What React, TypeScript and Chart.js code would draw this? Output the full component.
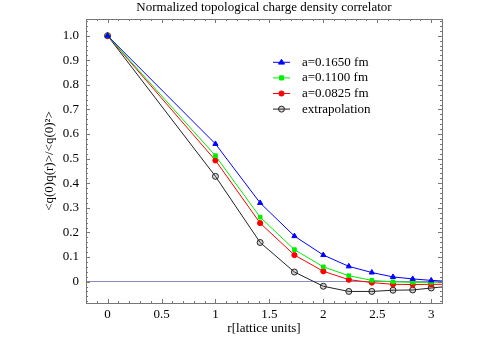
import React, { useEffect, useRef } from "react";
import { Chart, registerables } from "chart.js";

Chart.register(...registerables);

const chartTitle = "Normalized topological charge density correlator";
const xTitle = "r[lattice units]";
const yTitle = "<q(0)q(r)>/<q(0)²>";

const rValues = [0, 1, 1.4142, 1.7321, 2, 2.2361, 2.4495, 2.6458, 2.8284, 3, 3.1623];
const a1650 = [1, 0.56, 0.32, 0.185, 0.108, 0.062, 0.037, 0.019, 0.011, 0.005, 0.001];
const a1100 = [1, 0.512, 0.262, 0.13, 0.06, 0.024, 0.005, -0.001, -0.003, -0.003, -0.002];
const a0825 = [1, 0.493, 0.238, 0.108, 0.042, 0.008, -0.004, -0.011, -0.012, -0.011, -0.011];
const extrap = [1, 0.428, 0.159, 0.039, -0.019, -0.04, -0.04, -0.035, -0.034, -0.026, -0.019];

const seriesLabels = ["a=0.1650 fm", "a=0.1100 fm", "a=0.0825 fm", "extrapolation"];

const xTickValues = [0, 0.5, 1, 1.5, 2, 2.5, 3];
const yTickValues = [0, 0.1, 0.2, 0.3, 0.4, 0.5, 0.6, 0.7, 0.8, 0.9, 1.0];

const X_MIN = -0.2;
const X_MAX = 3.1;
const Y_MIN = -0.087;
const Y_MAX = 1.068;

const FONT = "'Liberation Serif', 'DejaVu Serif', serif";

const toPts = (ys: number[]) => ys.map((y, i) => ({ x: rValues[i], y }));

function drawMarker(ctx: CanvasRenderingContext2D, style: string, r: number, x: number, y: number) {
  ctx.beginPath();
  if (style === "triangle") {
    ctx.moveTo(x, y - r);
    ctx.lineTo(x + r, y + r * 0.6);
    ctx.lineTo(x - r, y + r * 0.6);
    ctx.closePath();
  } else if (style === "rect") {
    const s = r * 0.8;
    ctx.rect(x - s, y - s, 2 * s, 2 * s);
  } else {
    ctx.arc(x, y, r, 0, Math.PI * 2);
  }
  ctx.fill();
  ctx.stroke();
}

const decorPlugin = {
  id: "decor",
  afterDraw(chart: any) {
    const { ctx, chartArea } = chart;
    const { left, right, top, bottom } = chartArea;
    const xs = chart.scales.x;
    const ys = chart.scales.y;
    ctx.save();
    // frame
    ctx.strokeStyle = "#777";
    ctx.lineWidth = 1;
    ctx.strokeRect(Math.round(left) + 0.5, Math.round(top) + 0.5, Math.round(right - left), Math.round(bottom - top));
    // x ticks (top & bottom, inward)
    ctx.beginPath();
    for (let k = -2; k <= 31; k++) {
      const v = k / 10;
      const px = Math.round(xs.getPixelForValue(v)) + 0.5;
      if (px < left || px > right) continue;
      const len = k % 5 === 0 ? 4 : 2;
      ctx.moveTo(px, bottom);
      ctx.lineTo(px, bottom - len);
      ctx.moveTo(px, top);
      ctx.lineTo(px, top + len);
    }
    // y ticks (left & right, inward)
    for (let k = -4; k <= 53; k++) {
      const v = k / 50;
      const py = Math.round(ys.getPixelForValue(v)) + 0.5;
      if (py < top || py > bottom) continue;
      const len = k % 5 === 0 ? 4 : 2;
      ctx.moveTo(left, py);
      ctx.lineTo(left + len, py);
      ctx.moveTo(right, py);
      ctx.lineTo(right - len, py);
    }
    ctx.stroke();

    // titles
    ctx.fillStyle = "#000";
    ctx.font = `13px ${FONT}`;
    ctx.textAlign = "center";
    ctx.textBaseline = "middle";
    const cx = (left + right) / 2;
    ctx.fillText(chartTitle, cx, 8);
    ctx.fillText(xTitle, cx, 329);
    ctx.save();
    ctx.translate(50, (top + bottom) / 2);
    ctx.rotate(-Math.PI / 2);
    ctx.fillText(yTitle, 0, 0);
    ctx.restore();

    // legend
    const lx0 = 273;
    const lx1 = 290;
    const tx = 302;
    const y0 = 62.3;
    const dy = 15.6;
    chart.data.datasets.forEach((ds: any, i: number) => {
      const yy = y0 + i * dy;
      ctx.strokeStyle = ds.borderColor;
      ctx.lineWidth = 1;
      ctx.beginPath();
      ctx.moveTo(lx0, yy);
      ctx.lineTo(lx1, yy);
      ctx.stroke();
      ctx.fillStyle = ds.pointBackgroundColor;
      ctx.strokeStyle = ds.pointBorderColor;
      drawMarker(ctx, ds.pointStyle, ds.pointRadius, (lx0 + lx1) / 2, yy);
      ctx.fillStyle = "#000";
      ctx.textAlign = "left";
      ctx.textBaseline = "middle";
      ctx.font = `13px ${FONT}`;
      ctx.fillText(ds.label, tx, yy);
    });
    ctx.restore();
  },
};

export default function App() {
  const ref = useRef<HTMLCanvasElement | null>(null);
  useEffect(() => {
    document.body.style.margin = "0";
    const canvas = ref.current;
    if (!canvas) return;
    const chart = new Chart(canvas, {
      type: "line",
      data: {
        datasets: [
          {
            label: seriesLabels[0],
            data: toPts(a1650),
            borderColor: "#0000ff",
            backgroundColor: "#0000ff",
            pointBackgroundColor: "#0000ff",
            pointBorderColor: "#0000ff",
            pointStyle: "triangle",
            pointRadius: 3,
            borderWidth: 1,
          },
          {
            label: seriesLabels[1],
            data: toPts(a1100),
            borderColor: "#00ee00",
            backgroundColor: "#00ee00",
            pointBackgroundColor: "#00ee00",
            pointBorderColor: "#00ee00",
            pointStyle: "rect",
            pointRadius: 2.6,
            borderWidth: 1,
          },
          {
            label: seriesLabels[2],
            data: toPts(a0825),
            borderColor: "#ff0000",
            backgroundColor: "#ff0000",
            pointBackgroundColor: "#ff0000",
            pointBorderColor: "#ff0000",
            pointStyle: "circle",
            pointRadius: 2.6,
            borderWidth: 1,
          },
          {
            label: seriesLabels[3],
            data: toPts(extrap),
            borderColor: "#222222",
            backgroundColor: "#222222",
            pointBackgroundColor: "rgba(90,90,90,0.25)",
            pointBorderColor: "#222222",
            pointStyle: "circle",
            pointRadius: 3,
            borderWidth: 1,
          },
        ],
      },
      options: {
        responsive: false,
        animation: false,
        devicePixelRatio: 1,
        layout: { padding: { top: 19, right: 41, left: 0, bottom: 0 } },
        plugins: {
          legend: { display: false },
          title: { display: false },
          tooltip: { enabled: false },
        },
        elements: { line: { tension: 0 }, point: { borderWidth: 1 } },
        scales: {
          x: {
            type: "linear",
            min: X_MIN,
            max: X_MAX,
            afterBuildTicks: (s: any) => {
              s.ticks = xTickValues.map((v) => ({ value: v }));
            },
            afterFit: (s: any) => {
              s.height = 35;
            },
            grid: { display: false, drawTicks: false },
            border: { display: false },
            ticks: {
              padding: 4,
              color: "#000",
              maxRotation: 0,
              autoSkip: false,
              font: { family: FONT, size: 13 },
              callback: (v: any) => String(v),
            },
          },
          y: {
            type: "linear",
            min: Y_MIN,
            max: Y_MAX,
            afterBuildTicks: (s: any) => {
              s.ticks = yTickValues.map((v) => ({ value: v }));
            },
            afterFit: (s: any) => {
              s.width = 86;
            },
            grid: {
              drawTicks: false,
              color: (c: any) => (c.tick && c.tick.value === 0 ? "#8a8ac4" : "rgba(0,0,0,0)"),
              lineWidth: 1,
            },
            border: { display: false },
            ticks: {
              padding: 7,
              color: "#000",
              autoSkip: false,
              font: { family: FONT, size: 13 },
              callback: (v: any) => (v === 0 ? "0" : Number(v).toFixed(1)),
            },
          },
        },
      },
      plugins: [decorPlugin],
    } as any);
    return () => chart.destroy();
  }, []);
  return <canvas ref={ref} width={483} height={338} style={{ display: "block" }} />;
}
